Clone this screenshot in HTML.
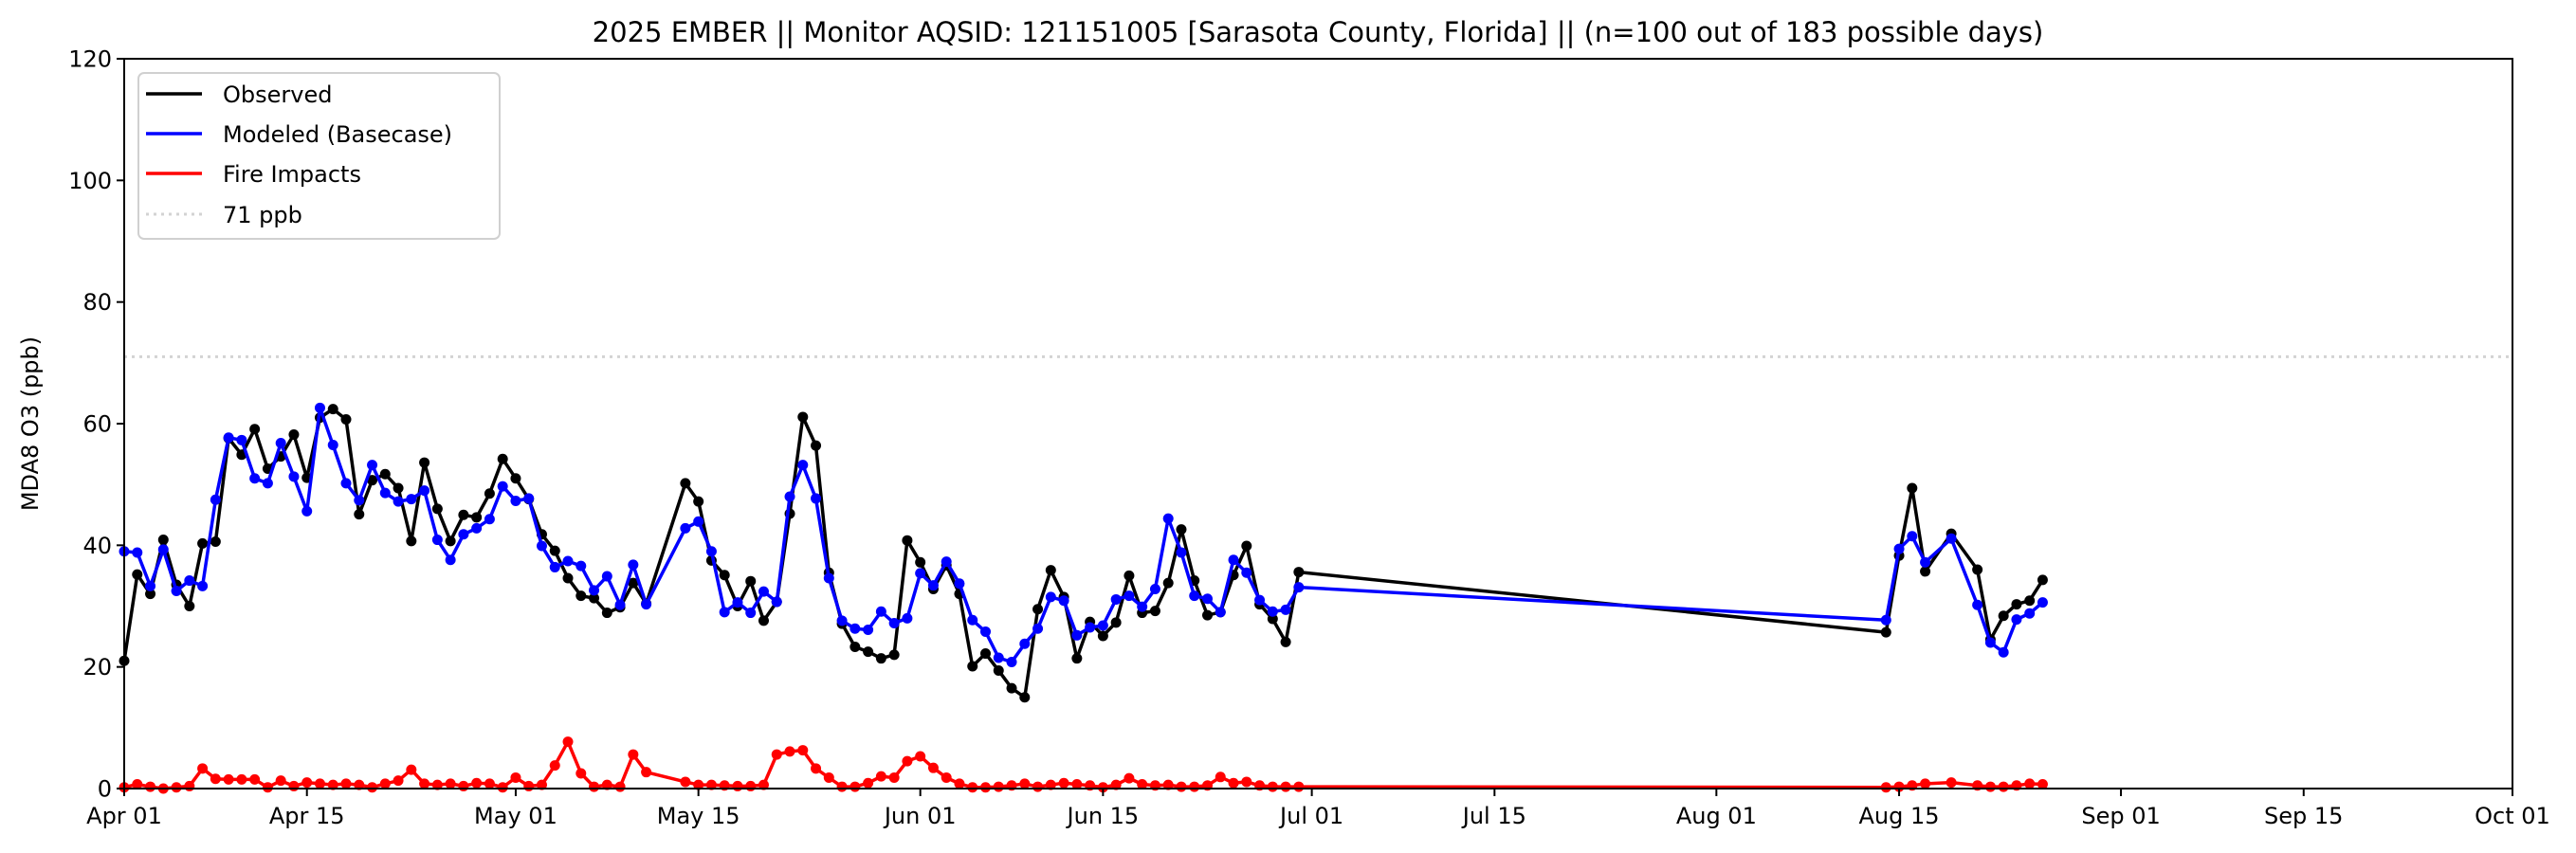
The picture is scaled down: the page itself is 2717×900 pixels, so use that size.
<!DOCTYPE html>
<html><head><meta charset="utf-8"><style>
html,body{margin:0;padding:0;background:#fff;}
svg{display:block;font-family:"DejaVu Sans","Liberation Sans",sans-serif;}
</style></head><body>
<svg id="chart" width="2717" height="900" xmlns="http://www.w3.org/2000/svg">
<rect width="2717" height="900" fill="#fff"/>
<text x="1390" y="44" font-size="29" text-anchor="middle">2025 EMBER || Monitor AQSID: 121151005 [Sarasota County, Florida] || (n=100 out of 183 possible days)</text>
<text transform="translate(40,447) rotate(-90)" font-size="24" text-anchor="middle">MDA8 O3 (ppb)</text>
<g id="grid"></g><g id="series"></g><g id="axes"></g>
<g>
<rect x="146" y="77" width="381" height="175" rx="6" fill="#fff" fill-opacity="0.8" stroke="#d0d0d0" stroke-width="2"/>
<g><line x1="154" y1="99" x2="213" y2="99" stroke="#000" stroke-width="3.5"/><text x="235" y="108" font-size="24">Observed</text></g>
<g><line x1="154" y1="141" x2="213" y2="141" stroke="#0000ff" stroke-width="3.5"/><text x="235" y="150" font-size="24">Modeled (Basecase)</text></g>
<g><line x1="154" y1="183" x2="213" y2="183" stroke="#ff0000" stroke-width="3.5"/><text x="235" y="192" font-size="24">Fire Impacts</text></g>
<g><line x1="154" y1="226" x2="213" y2="226" stroke="#d3d3d3" stroke-width="3" stroke-dasharray="3,5"/><text x="235" y="235" font-size="24">71 ppb</text></g>
</g>
</svg>
<script>
const dates = [
"2025-04-01","2025-04-02","2025-04-03","2025-04-04","2025-04-05","2025-04-06","2025-04-07","2025-04-08","2025-04-09","2025-04-10",
"2025-04-11","2025-04-12","2025-04-13","2025-04-14","2025-04-15","2025-04-16","2025-04-17","2025-04-18","2025-04-19","2025-04-20",
"2025-04-21","2025-04-22","2025-04-23","2025-04-24","2025-04-25","2025-04-26","2025-04-27","2025-04-28","2025-04-29","2025-04-30",
"2025-05-01","2025-05-02","2025-05-03","2025-05-04","2025-05-05","2025-05-06","2025-05-07","2025-05-08","2025-05-09","2025-05-10","2025-05-11",
"2025-05-14","2025-05-15","2025-05-16","2025-05-17","2025-05-18","2025-05-19","2025-05-20","2025-05-21","2025-05-22","2025-05-23",
"2025-05-24","2025-05-25","2025-05-26","2025-05-27","2025-05-28","2025-05-29","2025-05-30",
"2025-05-31","2025-06-01","2025-06-02","2025-06-03","2025-06-04","2025-06-05","2025-06-06","2025-06-07","2025-06-08","2025-06-09",
"2025-06-10","2025-06-11","2025-06-12","2025-06-13","2025-06-14","2025-06-15","2025-06-16","2025-06-17","2025-06-18","2025-06-19",
"2025-06-20","2025-06-21","2025-06-22","2025-06-23","2025-06-24","2025-06-25","2025-06-26","2025-06-27","2025-06-28","2025-06-29","2025-06-30",
"2025-08-14","2025-08-15","2025-08-16","2025-08-17","2025-08-19","2025-08-21","2025-08-22","2025-08-23","2025-08-24","2025-08-25","2025-08-26"];
const observed = [21.0,35.2,32.0,40.9,33.5,30.0,40.3,40.6,57.6,54.9,59.1,52.6,54.6,58.2,51.1,61.0,62.4,60.7,45.1,50.7,51.7,49.4,40.7,53.6,46.0,40.7,45.0,44.6,48.5,54.2,51.0,47.6,41.8,39.1,34.6,31.7,31.3,28.9,29.8,33.8,30.4,
50.2,47.2,37.5,35.1,30.0,34.1,27.6,30.7,45.2,61.1,56.4,35.5,27.1,23.3,22.5,21.4,22.0,
40.8,37.2,32.8,36.7,32.0,20.1,22.2,19.4,16.5,15.0,29.5,35.9,31.5,21.4,27.4,25.1,27.3,35.0,28.9,29.2,33.8,42.6,34.2,28.5,29.0,35.1,39.9,30.3,27.9,24.1,35.6,
25.7,38.3,49.4,35.7,41.9,36.0,24.5,28.4,30.3,30.9,34.3];
const modeled = [39.0,38.8,33.3,39.3,32.5,34.2,33.3,47.5,57.7,57.3,51.0,50.2,56.8,51.3,45.6,62.6,56.5,50.2,47.4,53.2,48.6,47.2,47.6,49.0,40.9,37.6,41.8,42.8,44.3,49.7,47.3,47.7,39.9,36.4,37.4,36.6,32.6,34.9,30.2,36.8,30.3,
42.8,43.9,39.0,29.0,30.6,28.9,32.4,30.7,48.0,53.2,47.7,34.6,27.6,26.3,26.1,29.1,27.2,
28.0,35.4,33.4,37.3,33.7,27.7,25.8,21.5,20.8,23.8,26.3,31.5,30.9,25.2,26.5,26.8,31.1,31.7,29.9,32.8,44.4,38.8,31.7,31.2,29.0,37.6,35.5,31.0,29.1,29.4,33.1,
27.7,39.4,41.5,37.2,41.1,30.2,24.0,22.4,27.8,28.8,30.6];
const fire = [0.2,0.7,0.3,0,0.2,0.4,3.3,1.6,1.5,1.5,1.5,0.2,1.3,0.4,1.0,0.8,0.6,0.8,0.6,0.2,0.8,1.3,3.1,0.8,0.6,0.8,0.4,0.9,0.8,0.2,1.8,0.4,0.6,3.8,7.7,2.5,0.3,0.6,0.3,5.6,2.7,
1.1,0.6,0.6,0.5,0.4,0.4,0.6,5.6,6.1,6.3,3.3,1.8,0.3,0.3,0.9,2.0,1.8,
4.5,5.3,3.4,1.8,0.8,0.2,0.2,0.3,0.5,0.8,0.3,0.6,0.9,0.7,0.5,0.2,0.6,1.7,0.7,0.5,0.6,0.3,0.3,0.5,1.9,0.9,1.1,0.5,0.3,0.3,0.3,
0.2,0.3,0.5,0.8,1.0,0.5,0.3,0.3,0.5,0.8,0.7];
const yTicks = [0,20,40,60,80,100,120];
const xTickDates = ["2025-04-01","2025-04-15","2025-05-01","2025-05-15","2025-06-01","2025-06-15","2025-07-01","2025-07-15","2025-08-01","2025-08-15","2025-09-01","2025-09-15","2025-10-01"];
const xTickLabels = ["Apr 01","Apr 15","May 01","May 15","Jun 01","Jun 15","Jul 01","Jul 15","Aug 01","Aug 15","Sep 01","Sep 15","Oct 01"];
const threshold = 71;

const NS="http://www.w3.org/2000/svg";
const L=131,R=2650,T=62,B=832;
const t0=Date.UTC(2025,3,1), t1=Date.UTC(2025,9,1);
function dayOf(s){const p=s.split("-");return (Date.UTC(+p[0],+p[1]-1,+p[2])-t0)/86400000;}
function xScale(s){return L+dayOf(s)/((t1-t0)/86400000)*(R-L);}
function yScale(v){return B-(v/120)*(B-T);}
function mk(tag,attrs,parent){const e=document.createElementNS(NS,tag);for(const k in attrs)e.setAttribute(k,attrs[k]);parent.appendChild(e);return e;}

const grid=document.getElementById("grid");
const th=mk("line",{x1:L,x2:R,y1:yScale(threshold),y2:yScale(threshold),stroke:"#d3d3d3","stroke-width":3,"stroke-dasharray":"3,5"},grid);



const series=document.getElementById("series");
function drawSeries(vals,color,name){
  const g=mk("g",{},series);
  
  
  const pts=vals.map((v,i)=>xScale(dates[i]).toFixed(1)+","+yScale(v).toFixed(1)).join(" ");
  const pl=mk("polyline",{points:pts,fill:"none",stroke:color,"stroke-width":3.5,"stroke-linejoin":"round"},g);
  
  
  vals.forEach((v,i)=>{
    const c=mk("circle",{cx:xScale(dates[i]),cy:yScale(v),r:5.5,fill:color},g);
    
    
  });
}
drawSeries(observed,"#000000","observed-series");
drawSeries(modeled,"#0000ff","modeled-series");
drawSeries(fire,"#ff0000","fire-impacts-series");

const axes=document.getElementById("axes");
const frame=mk("rect",{x:L,y:T,width:R-L,height:B-T,fill:"none",stroke:"#000","stroke-width":2},axes);


yTicks.forEach(v=>{
  const y=yScale(v);
  const tk=mk("line",{x1:L-8,x2:L,y1:y,y2:y,stroke:"#000","stroke-width":2},axes);
  
  
  const tx=mk("text",{x:L-13,y:y+8.5,"font-size":24,"text-anchor":"end"},axes);
  tx.textContent=v;
  
  
});
xTickDates.forEach((d,i)=>{
  const x=xScale(d);
  const tk=mk("line",{x1:x,x2:x,y1:B,y2:B+8,stroke:"#000","stroke-width":2},axes);
  
  
  const tx=mk("text",{x:x,y:B+37,"font-size":24,"text-anchor":"middle"},axes);
  tx.textContent=xTickLabels[i];
  
  
});
</script>
</body></html>
